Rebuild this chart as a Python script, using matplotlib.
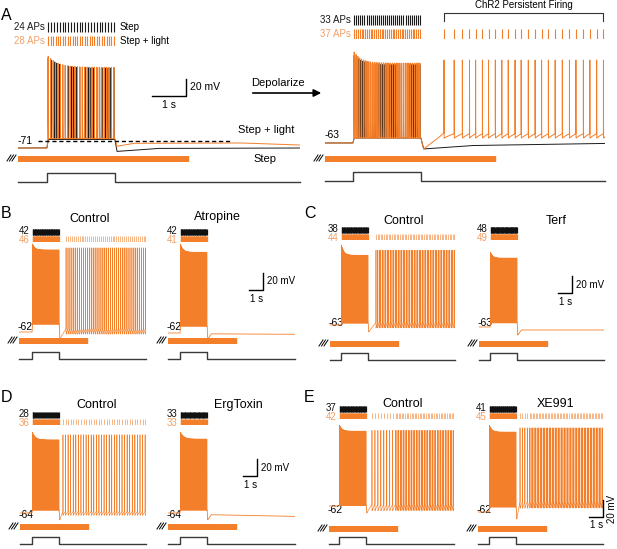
import numpy as np
import matplotlib.pyplot as plt

plt.rcParams['font.family'] = ['Liberation Sans', 'DejaVu Sans']

W, H = 617, 549
ORANGE = '#F47F2A'
ORANGE_TXT = '#F3A067'
GREY = '#3a3a3a'
DT = 0.0005
PX_MV = 0.85      # pixels per mV (all panels)
PXS_A, PXS = 34.0, 13.6   # pixels per second, panel A / panels B-E
STEP = 2.0        # current step duration, s
LIGHT = 5.0       # light pulse duration, s

# ---------------- panel A: left = step vs step + light, right = after depolarisation
a_step_on = [0.85, 0.82]
a_t_end = [8.3, 8.25]
a_black_aps = [24, 33]
a_orange_aps = [28, 37]
a_rest = [-71, -63]
a_black_peak = [(35, 23), (40, 29)]
a_orange_peak = [(37, 24), (44, 31)]
a_black_env_t = [[0, 0.85, 0.89, 2.85, 2.91, 4.1, 8.3], [0, 0.82, 0.86, 2.82, 2.9, 4.3, 8.25]]
a_black_env_v = [[-71, -71, -61, -61, -75, -71.5, -71], [-63, -63, -57, -57, -70, -66, -63.5]]
a_orange_env_t = [[0, 0.85, 0.89, 2.85, 2.91, 3.4, 6.5, 8.3], [0, 0.82, 0.86, 2.82, 2.9, 3.3, 3.5, 8.25]]
a_orange_env_v = [[-71, -71, -60, -60, -69, -65.5, -65, -67.5], [-63, -63, -57, -57, -70, -58, -51, -51]]
a_persist = [3.50, 3.80, 4.04, 4.25, 4.43, 4.63, 4.81, 5.01, 5.20, 5.39, 5.59, 5.77,
             5.98, 6.18, 6.37, 6.57, 6.77, 6.98, 7.19, 7.38, 7.60, 7.79, 7.99, 8.19]
a_persist_peak = 34.6
a_persist_trough, a_persist_thr = -57.5, -52

# ---------------- panels B-E (control / drug pairs)
titles = ['Control', 'Atropine', 'Control', 'Terf', 'Control', 'ErgToxin', 'Control', 'XE991']
black_aps = [42, 42, 38, 48, 28, 33, 37, 41]
orange_aps = [46, 41, 44, 49, 36, 33, 42, 45]
rest = [-62, -62, -63, -63, -64, -64, -62, -62]
step_on = [0.96, 0.88, 0.81, 0.81, 0.88, 0.88, 0.74, 0.81]
t_end = [9.34, 9.34, 9.19, 9.19, 9.26, 9.34, 9.19, 9.19]
step_peak = [(41.5, 34.5), (42.7, 33), (31, 19), (25, 18), (31, 22), (31, 23), (33, 26), (40, 32)]
step_floor = [-52.6, -53.8, -60.6, -58, -60.5, -60.5, -61, -56]
post_v = [None, (-63, -63.5), None, (-66.5, -66.5), None, (-66, -68), None, None]
persist_seg = [[(3.46, 9.3, 42)], [], [(3.38, 9.15, 50)], [], [(3.16, 9.2, 33)], [],
               [(3.16, 4.9, 9), (5.0, 9.15, 36)], [(3.09, 3.8, 5), (3.9, 9.15, 48)]]
persist_peak = [37, None, 25, None, 28, None, 27, 37]
persist_trough = [-65, None, -67, None, -67, None, -68, -58]
persist_thr = [-58, None, -60, None, -62, None, -60, -50]

# layout of the eight small panels (pixels)
sub_x0 = [19, 168, 330, 479, 20, 168, 329, 478]
sub_base = [332, 333, 325, 327, 513, 513, 506, 512]
sub_raster = [229, 229, 227, 227, 412, 412, 406, 406]
sub_light = [340, 340, 343, 343, 526, 526, 528, 528]
sub_cmd = [352, 352, 353, 353, 537, 537, 537, 537]
sub_title = [(90, 219), (217, 217), (404, 221), (556, 221), (97, 405), (238, 405), (403, 404), (556, 404)]
sub_label_y = [327, 327, 323, 323, 515, 515, 510, 510]
scale_at = {1: (6.98, -11.4), 3: (6.84, -23), 5: (6.54, -20.5)}

KERN = np.concatenate([[0.4, 0.8], np.exp(-np.arange(10) * DT / 0.001)])


def step_train(on, n, first, late):
    ts = np.linspace(on + 0.04, on + STEP - 0.03, n)
    return ts, late + (first - late) * np.exp(-np.arange(n) / 4.0)


def trace(t_stop, env_t, env_v, spikes, peaks, persist=(), trough=0.0, thr=0.0):
    t = np.arange(0, t_stop, DT)
    base = np.interp(t, env_t, env_v)
    if len(persist):
        ps = np.asarray(persist, float)
        edges = np.append(ps, ps[-1] + (np.diff(ps).mean() if len(ps) > 1 else 0.3))
        m = t >= ps[0]
        i = np.clip(np.searchsorted(edges, t[m], side='right') - 1, 0, len(ps) - 1)
        ph = np.clip((t[m] - edges[i]) / (edges[i + 1] - edges[i]), 0, 1)
        base[m] = trough + (thr - trough) * ph ** 0.8
    v = base.copy()
    for ts, pk in zip(spikes, peaks):
        i0 = int(round(ts / DT))
        j = np.arange(i0 - 2, min(i0 + len(KERN) - 2, len(t)))
        w = KERN[:len(j)]
        v[j] = np.maximum(v[j], base[j] + (pk - base[j]) * w)
    return t, v


fig = plt.figure(figsize=(W / 100, H / 100), dpi=100)
over = fig.add_axes([0, 0, 1, 1])
over.set_xlim(0, W)
over.set_ylim(H, 0)
over.set_axis_off()


def make_axes(x0, pxs, te, y0, y1, ylim):
    ax = fig.add_axes([x0 / W, 1 - y1 / H, te * pxs / W, (y1 - y0) / H])
    ax.set_xlim(0, te)
    ax.set_ylim(*ylim)
    ax.set_axis_off()
    return ax


def slashes(x, y):
    for dx in (0, 2.5, 5):
        over.plot([x + dx, x + dx + 4], [y + 3, y - 3], color='k', lw=0.7)


def stimulus(x0, pxs, te, on, light_y, cmd_hi, cmd_lo):
    la = make_axes(x0, pxs, te, light_y - 2.5, light_y + 2.5, (0, 1))
    la.broken_barh([(0, LIGHT)], (0, 1), color=ORANGE)
    ca = make_axes(x0, pxs, te, cmd_hi, cmd_lo, (0, 1))
    ca.plot([0, on, on, on + STEP, on + STEP, te], [0, 0, 1, 1, 0, 0], color=GREY, lw=1, clip_on=False)
    slashes(x0 - 11, light_y)


def scalebar(ax, x, y, fs=7):
    ax.plot([x - 1, x, x], [y, y, y + 20], color='k', lw=1, clip_on=False)
    ax.annotate('20 mV', (x, y + 10), xytext=(4, 0), textcoords='offset pixels',
                ha='left', va='center', fontsize=fs)
    ax.annotate('1 s', (x - 0.5, y), xytext=(0, -4), textcoords='offset pixels',
                ha='center', va='top', fontsize=fs)


# ---------------- panel A
a_x0 = [18, 325]
a_base = [148, 143]
a_raster = [22, 15]
a_light = [158, 158]
a_cmd = [(173, 182), (172, 181)]
for s in range(2):
    x0, on, te, r = a_x0[s], a_step_on[s], a_t_end[s], a_rest[s]
    tb, pb = step_train(on, a_black_aps[s], *a_black_peak[s])
    to, po = step_train(on, a_orange_aps[s], *a_orange_peak[s])
    ps = np.array(a_persist if s == 1 else [])
    t, vb = trace(te, a_black_env_t[s], a_black_env_v[s], tb, pb)
    t, vo = trace(te, a_orange_env_t[s], a_orange_env_v[s], np.r_[to, ps],
                  np.r_[po, np.full(len(ps), a_persist_peak)], ps, a_persist_trough, a_persist_thr)
    ax = make_axes(x0, PXS_A, te, a_base[s] - 135 * PX_MV, a_base[s] + 25 * PX_MV, (r - 25, r + 135))
    ax.plot(t, vb, color='#1a1a1a', lw=0.7)
    ax.plot(t, vo, color=ORANGE, lw=0.7)

    ra = make_axes(x0, PXS_A, te, a_raster[s], a_raster[s] + 24, (0, 2))
    ra.vlines(tb, 1.17, 2, color='#1a1a1a', lw=0.8)
    ra.vlines(np.r_[to, ps], 0, 0.83, color=ORANGE, lw=0.8)
    ra.annotate('%d APs' % a_black_aps[s], (tb[0], 1.58), xytext=(-3, 0), textcoords='offset pixels',
                ha='right', va='center', fontsize=7, color='#1a1a1a')
    ra.annotate('%d APs' % a_orange_aps[s], (to[0], 0.42), xytext=(-3, 0), textcoords='offset pixels',
                ha='right', va='center', fontsize=7, color=ORANGE_TXT)
    if s == 0:
        ra.annotate('Step', (tb[-1], 1.58), xytext=(6, 0), textcoords='offset pixels',
                    ha='left', va='center', fontsize=7)
        ra.annotate('Step + light', (to[-1], 0.42), xytext=(6, 0), textcoords='offset pixels',
                    ha='left', va='center', fontsize=7)
        ax.hlines(-63, 0.59, 6.24, color='k', lw=1, linestyles=(0, (3, 2)))
        scalebar(ax, 4.94, -9.8, fs=7.5)
    else:
        ra.plot([ps[0], ps[0], ps[-1], ps[-1]], [1.5, 2.17, 2.17, 1.5], color='#333333', lw=0.8, clip_on=False)
        ra.text((ps[0] + ps[-1]) / 2, 2.8, 'ChR2 Persistent Firing', ha='center', va='center', fontsize=7)
    stimulus(x0, PXS_A, te, on, a_light[s], *a_cmd[s])

over.text(18, 141, '-71', ha='left', va='center', fontsize=7.5)
over.text(325, 135, '-63', ha='left', va='center', fontsize=7.5)
over.text(238, 130, 'Step + light', ha='left', va='center', fontsize=8)
over.text(253, 159, 'Step', ha='left', va='center', fontsize=8)
over.text(251, 83, 'Depolarize', ha='left', va='center', fontsize=8)
over.annotate('', xy=(324, 93), xytext=(250, 93),
              arrowprops=dict(arrowstyle='-|>', color='k', lw=1.2, mutation_scale=11))

# ---------------- panels B-E
for k in range(8):
    x0, on, te, r = sub_x0[k], step_on[k], t_end[k], rest[k]
    off = on + STEP
    ts, pk = step_train(on, orange_aps[k], *step_peak[k])
    tb = step_train(on, black_aps[k], 0, 0)[0]
    fl = step_floor[k]
    ax = make_axes(x0, PXS, te, sub_base[k] - 135 * PX_MV, sub_base[k] + 25 * PX_MV, (r - 25, r + 135))
    if persist_seg[k]:
        ps = np.concatenate([np.linspace(a, b, n) for a, b, n in persist_seg[k]])
        env = ([0, on, on + 0.03, off, off + 0.04, ps[0]], [r, r, fl, fl, r - 8, persist_thr[k]])
        t, v = trace(te, *env, np.r_[ts, ps], np.r_[pk, np.full(len(ps), persist_peak[k])],
                     ps, persist_trough[k], persist_thr[k])
        cut = int(round((off + 0.05) / DT))
        ax.plot(t[:cut], v[:cut], color=ORANGE, lw=0.6)
        ax.plot(t[cut - 1:], v[cut - 1:], color=ORANGE, lw=0.45)
    else:
        ps = np.array([])
        p0, p1 = post_v[k]
        env = ([0, on, on + 0.03, off, off + 0.04, off + 0.3, te], [r, r, fl, fl, p0 - 6, p0, p1])
        t, v = trace(te, *env, ts, pk)
        ax.plot(t, v, color=ORANGE, lw=0.6)

    ra = make_axes(x0, PXS, te, sub_raster[k], sub_raster[k] + 13, (0, 2))
    ra.vlines(tb, 1.15, 2, color='#111111', lw=0.9)
    ra.vlines(ts, 0, 0.85, color=ORANGE, lw=0.9)
    if len(ps):
        ra.vlines(ps, 0, 0.85, color=ORANGE, lw=0.5, alpha=0.8)
    ra.annotate(str(black_aps[k]), (tb[0], 1.57), xytext=(-3, 1), textcoords='offset pixels',
                ha='right', va='center', fontsize=7, color='#111111')
    ra.annotate(str(orange_aps[k]), (ts[0], 0.42), xytext=(-3, -1), textcoords='offset pixels',
                ha='right', va='center', fontsize=7, color=ORANGE_TXT)

    stimulus(x0, PXS, te, on, sub_light[k], sub_cmd[k], sub_cmd[k] + 7)
    over.text(*sub_title[k], titles[k], ha='center', va='center', fontsize=9)
    over.text(x0 - 1, sub_label_y[k], str(r), ha='left', va='center', fontsize=7.5)

    if k in scale_at:
        scalebar(ax, *scale_at[k])
    if k == 7:
        x, y = 9.19, -67.9
        ax.plot([x - 1, x, x], [y, y, y + 20], color='k', lw=1, clip_on=False)
        ax.annotate('20 mV', (x, y + 10), xytext=(9, 0), textcoords='offset pixels',
                    ha='center', va='center', rotation=90, fontsize=7)
        ax.annotate('1 s', (x - 0.45, y), xytext=(0, -3), textcoords='offset pixels',
                    ha='center', va='top', fontsize=7)

for letter, x, y in [('A', 1, 15), ('B', 1, 213), ('C', 304, 213), ('D', 1, 398), ('E', 304, 398)]:
    over.text(x, y, letter, ha='left', va='center', fontsize=11.5)

fig.savefig('out.png', dpi=100)
